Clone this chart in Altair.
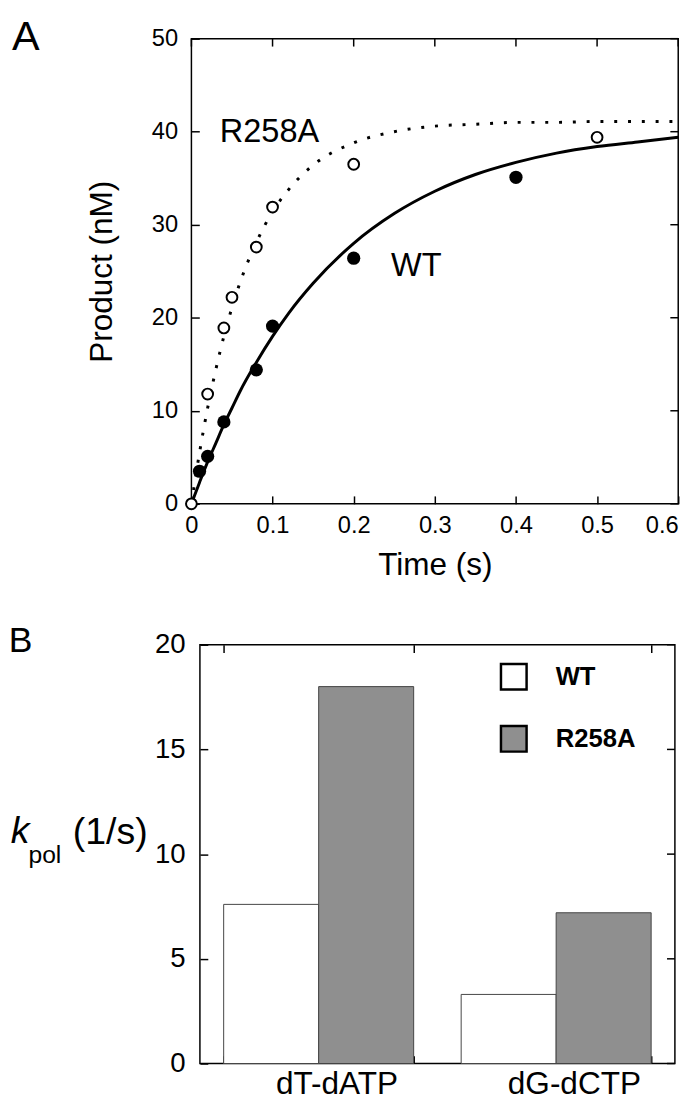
import altair as alt
import pandas as pd

FONT = "Liberation Sans"

# ---------------- Panel A data ----------------
wt_time = [0.01, 0.02, 0.04, 0.08, 0.1, 0.2, 0.4]
wt_product = [3.5, 5.1, 8.8, 14.4, 19.1, 26.4, 35.1]
mut_time = [0.0, 0.02, 0.04, 0.05, 0.08, 0.1, 0.2, 0.5]
mut_product = [0.0, 11.8, 18.9, 22.2, 27.6, 31.9, 36.5, 39.4]

# fitted curves
fit_time = [0, 0.01, 0.02, 0.03, 0.04, 0.05, 0.06, 0.08, 0.1, 0.12, 0.15,
            0.2, 0.25, 0.3, 0.35, 0.4, 0.45, 0.5, 0.55, 0.6]
wt_fit = [0, 2.3, 4.5, 6.5, 8.5, 10.3, 12.1, 15.2, 18.0, 20.5, 23.7,
          28.0, 31.2, 33.6, 35.4, 36.7, 37.7, 38.4, 38.9, 39.4]
mut_fit = [0, 5.5, 10.3, 14.4, 18.0, 21.1, 23.8, 28.1, 31.4, 33.8, 36.4,
           38.8, 40.0, 40.6, 40.8, 41.0, 41.0, 41.1, 41.1, 41.1]

x_ticks = [0, 0.1, 0.2, 0.3, 0.4, 0.5, 0.6]
y_ticks = [0, 10, 20, 30, 40, 50]

ann_labels = ["R258A", "WT"]
ann_time = [0.035, 0.246]
ann_product = [40.0, 25.6]

# ---------------- Panel B data ----------------
pairs = ["dT-dATP", "dG-dCTP"]
variants = ["WT", "R258A"]
wt_kpol = [7.6, 3.3]
mut_kpol = [18.0, 7.2]
k_ticks = [0, 5, 10, 15, 20]

# ---------------- tables ----------------
wt_df = pd.DataFrame({"t": wt_time, "y": wt_product})
mut_df = pd.DataFrame({"t": mut_time, "y": mut_product})
fit_df = pd.DataFrame({"t": fit_time, "wt": wt_fit, "mut": mut_fit})
ann_df = pd.DataFrame({"t": ann_time, "y": ann_product, "label": ann_labels})
xt_df = pd.DataFrame({"v": x_ticks})
yt_df = pd.DataFrame({"v": y_ticks})
kt_df = pd.DataFrame({"v": k_ticks})
bars_df = pd.DataFrame({
    "pair": pairs + pairs,
    "variant": [variants[0]] * 2 + [variants[1]] * 2,
    "kpol": wt_kpol + mut_kpol,
})

TICK = 8

# ---------------- Panel A ----------------
W1, H1 = 494, 472
xs = alt.Scale(domain=[0, 0.6], nice=False, zero=False)
ys = alt.Scale(domain=[0, 50], nice=False)

x_main = alt.Axis(orient="bottom", values=x_ticks, offset=-TICK, tickSize=TICK,
                  minExtent=0, domain=False, grid=False, labelFontSize=24, labelPadding=29,
                  labelBaseline="alphabetic", labelFlush=False, labelOverlap=False,
                  labelAlign={"condition": {"test": "datum.value > 0.55", "value": "right"},
                              "value": "center"},
                  labelExpr="datum.value == 0 ? '0' : format(datum.value, '.1f')",
                  title="Time (s)", titleFontSize=32, titleY=80,
                  titleBaseline="alphabetic")
y_main = alt.Axis(orient="left", values=y_ticks, offset=-TICK, tickSize=TICK,
                  minExtent=0, domain=False, grid=False, labelFontSize=24, labelPadding=14,
                  labelOverlap=False,
                  title="Product (nM)", titleFontSize=32, titleX=-89, titleY=H1 / 2,
                  titleAngle=270, titleAlign="center", titleBaseline="alphabetic")


def X(field):
    return alt.X(field, scale=xs, axis=x_main)


def Y(field):
    return alt.Y(field, scale=ys, axis=y_main)


line_wt = alt.Chart(fit_df).mark_line(color="black", strokeWidth=3, interpolate="monotone").encode(
    x=X("t:Q"), y=Y("wt:Q"))
line_mut = alt.Chart(fit_df).mark_line(color="black", strokeWidth=3, strokeDash=[3, 11],
                                       interpolate="monotone").encode(
    x=X("t:Q"), y=Y("mut:Q"))
pts_wt = alt.Chart(wt_df).mark_point(filled=True, color="black", size=180, opacity=1,
                                     shape="circle").encode(x=X("t:Q"), y=Y("y:Q"))
pts_mut = alt.Chart(mut_df).mark_point(filled=True, fill="white", stroke="black", strokeWidth=2,
                                       size=120, opacity=1, shape="circle").encode(
    x=X("t:Q"), y=Y("y:Q"))
ann = alt.Chart(ann_df).mark_text(font=FONT, fontSize=33, align="left", baseline="middle",
                                  color="black").encode(x=X("t:Q"), y=Y("y:Q"), text="label:N")
lab_a = alt.Chart(pd.DataFrame({"label": ["A"]})).mark_text(
    font=FONT, fontSize=42, align="left", baseline="alphabetic", color="black").encode(
    x=alt.value(-182), y=alt.value(12), text="label:N")
# inward ticks on the top and right frame edges
top_ticks = alt.Chart(xt_df).mark_rule(color="black", strokeWidth=1.5).encode(
    x=X("v:Q"), y=alt.value(0), y2=alt.value(TICK))
right_ticks = alt.Chart(yt_df).mark_rule(color="black", strokeWidth=1.5).encode(
    y=Y("v:Q"), x=alt.value(W1 - TICK), x2=alt.value(W1))

top = alt.layer(line_wt, line_mut, pts_wt, pts_mut, ann, lab_a, top_ticks, right_ticks
                ).properties(width=W1, height=H1)

# ---------------- Panel B ----------------
W2, H2 = 482, 425
xb_scale = alt.Scale(domain=pairs, paddingInner=0.2, paddingOuter=0.1)
xo_scale = alt.Scale(domain=variants, paddingInner=0, paddingOuter=0)
yb_scale = alt.Scale(domain=[0, 20], nice=False)

xb_main = alt.Axis(orient="bottom", offset=-TICK, tickSize=TICK, tickBand="extent",
                   minExtent=0, domain=False, grid=False, labelFontSize=32, labelPadding=30,
                   labelBaseline="alphabetic", labelOffset=18, labelAngle=0, title=None)
yb_main = alt.Axis(orient="left", values=k_ticks, offset=-TICK, tickSize=TICK,
                   minExtent=0, domain=False, grid=False, labelFontSize=28, labelPadding=15,
                   title=None)
xb_top = alt.Axis(orient="top", offset=-TICK, tickSize=TICK, tickBand="extent", minExtent=0,
                  maxExtent=0, domain=False, grid=False, labels=False, title=None,
                  titlePadding=0, titleFontSize=0)

legend = alt.Legend(orient="none", legendX=304, legendY=18, title=None,
                    symbolType="square", symbolSize=676, symbolStrokeColor="black",
                    symbolStrokeWidth=2.5, symbolOpacity=1, labelFontSize=26,
                    labelFontWeight="bold", labelFont=FONT, labelColor="black",
                    labelOffset=28, rowPadding=26, padding=0)

bars = alt.Chart(bars_df).mark_bar(stroke="#444444", strokeWidth=1, opacity=1).encode(
    x=alt.X("pair:N", sort=pairs, scale=xb_scale, axis=xb_main),
    xOffset=alt.XOffset("variant:N", sort=variants, scale=xo_scale),
    y=alt.Y("kpol:Q", scale=yb_scale, axis=yb_main),
    fill=alt.Fill("variant:N", sort=variants,
                  scale=alt.Scale(domain=variants, range=["#ffffff", "#8f8f8f"]),
                  legend=legend),
)


def label_mark(txt, size, x, y, style="normal"):
    return alt.Chart(pd.DataFrame({"label": [txt]})).mark_text(
        font=FONT, fontSize=size, fontStyle=style, align="left", baseline="alphabetic",
        color="black").encode(x=alt.value(x), y=alt.value(y), text="label:N")


lab_b = label_mark("B", 36, -194, 7)
lab_k = label_mark("k", 38, -192, 201, "italic")
lab_pol = label_mark("pol", 25, -174, 221)
lab_unit = label_mark("(1/s)", 38, -129, 202)
k_right = alt.Chart(kt_df).mark_rule(color="black", strokeWidth=1.5).encode(
    y=alt.Y("v:Q", scale=yb_scale, axis=yb_main), x=alt.value(W2 - TICK), x2=alt.value(W2))

ghost = alt.Chart(bars_df).mark_bar(opacity=0).encode(
    x=alt.X("pair:N", sort=pairs, scale=xb_scale, axis=xb_top),
    xOffset=alt.XOffset("variant:N", sort=variants, scale=xo_scale),
    y=alt.Y("kpol:Q", scale=yb_scale, axis=yb_main),
)

bottom = alt.layer(
    alt.layer(bars, lab_b, lab_k, lab_pol, lab_unit, k_right),
    ghost,
).resolve_axis(x="independent").properties(width=W2, height=H2)

chart = alt.vconcat(top, bottom, spacing=41, center=True).resolve_scale(
    fill="independent"
).resolve_legend(fill="independent").properties(
    padding=0
).configure(font=FONT).configure_view(
    stroke="black", strokeWidth=1.5
).configure_axis(
    labelFont=FONT, titleFont=FONT, labelColor="black", titleColor="black",
    tickColor="black", tickWidth=1.5, titleFontWeight="normal", minExtent=0
)

chart.save("out.html", embed_options={"renderer": "svg", "actions": False})
